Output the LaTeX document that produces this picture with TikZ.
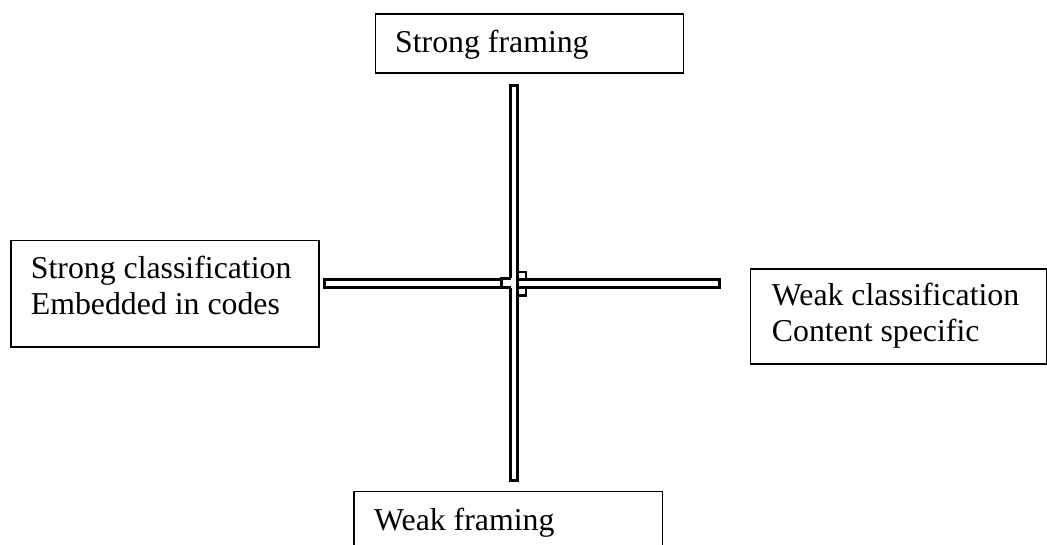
\documentclass[tikz,border=0pt]{standalone}
\usepackage{fontspec}
\setmainfont{Liberation Serif}
\begin{document}
\begin{tikzpicture}[x=1pt,y=-1pt,
  box/.style={draw, line width=1.3pt, inner sep=0pt, anchor=north west},
  txt/.style={anchor=base west, inner sep=0pt, font=\fontsize{31.8}{36.5}\selectfont},
  bar/.style={draw, line width=2.6pt, line join=miter, line cap=rect}]
\useasboundingbox (0,0) rectangle (1047,545);
% boxes
\node[box, minimum width=308pt, minimum height=59.1pt] (sf) at (374.7,13.3) {};
\node[box, minimum width=308.1pt, minimum height=106.3pt] (sc) at (10.2,240) {};
\node[box, minimum width=296.6pt, minimum height=94.9pt] (wc) at (749.7,268.4) {};
\node[box, minimum width=308.2pt, minimum height=80pt] (wf) at (353.4,490.7) {};
% texts
\node[txt] (sft) at (395,53) {Strong framing};
\node[txt] (sct1) at (30.7,278.3) {Strong classification};
\node[txt] (sct2) at (30.7,315) {Embedded in codes};
\node[txt] (wct1) at (771.7,306) {Weak classification};
\node[txt] (wct2) at (771.7,341.7) {Content specific};
\node[txt] (wft) at (374,530.5) {Weak framing};
% cross bars
\begin{scope}[line width=2.6pt]
  % vertical bar
  \draw (510.7,278.3) -- (510.7,85.3) -- (517.3,85.3) -- (517.3,480.3) -- (510.7,480.3) -- (510.7,287.6);
  % left part of horizontal bar with tab
  \draw (510.7,278.3) -- (501.3,278.3) -- (501.3,279.7) -- (324.3,279.7) -- (324.3,287.6) -- (510.7,287.6);
  \draw (501.3,279.7) -- (501.3,287.6);
  % right part of horizontal bar
  \draw (517.3,279.7) -- (719.3,279.7) -- (719.3,287.6) -- (517.3,287.6);
  % small squares at right of crossing
  \draw (517.3,272) rectangle (526,279.7);
  \draw (517.3,287.6) rectangle (526,295.3);
\end{scope}
\end{tikzpicture}
\end{document}
